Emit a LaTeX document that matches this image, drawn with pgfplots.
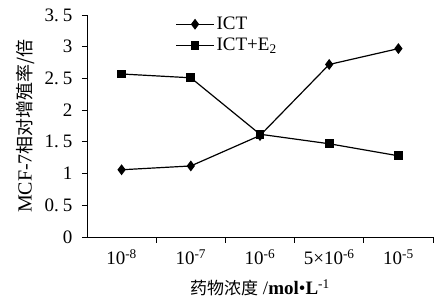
\documentclass[border=0pt]{standalone}
\usepackage{fontspec}
\setmainfont{Liberation Serif}
\newfontfamily\cjk{Noto Sans CJK SC}
\usepackage{pgfplots}
\pgfplotsset{compat=1.18}
\begin{document}
\begin{tikzpicture}
\begin{axis}[
  at={(0,0)}, anchor=south west,
  scale only axis, width=346pt, height=222pt,
  xmin=-0.5, xmax=4.5, ymin=0, ymax=3.5,
  axis x line*=bottom, axis y line*=left,
  axis line style={black, line width=0.8pt, -},
  xtick={0,1,2,3,4},
  xticklabels={10\textsuperscript{-8},10\textsuperscript{-7},10\textsuperscript{-6},5×10\textsuperscript{-6},10\textsuperscript{-5}},
  minor xtick={0.5,1.5,2.5,3.5,4.5},
  major x tick style={draw=none},
  minor tick length=6pt,
  ytick={0,0.5,1,1.5,2,2.5,3,3.5},
  yticklabels={0,0.\hspace{4pt}5,1,1.\hspace{4pt}5,2,2.\hspace{4pt}5,3,3.\hspace{4pt}5},
  major tick length=5pt,
  tick align=outside,
  tick style={black, line width=0.8pt},
  /pgf/number format/assume math mode=true,
  tick label style={font=\fontsize{19}{21}\selectfont},
  xticklabel style={yshift=-4pt},
  yticklabel style={xshift=-6pt},
  xlabel={{\cjk\fontsize{17}{19}\selectfont 药物浓度} /\textbf{mol}\textbullet\textbf{L}\textsuperscript{-1}},
  xlabel style={font=\fontsize{19}{21}\selectfont, yshift=-8pt},
  ylabel={MCF-7{\cjk\fontsize{18}{20}\selectfont 相对增殖率/倍}},
  ylabel style={font=\fontsize{20}{22}\selectfont, yshift=3pt},
  legend style={draw=none, fill=none, at={(0.255,1.0)}, anchor=north west,
    font=\fontsize{19}{21}\selectfont, row sep=3pt, inner sep=0pt,
    nodes={inner sep=2pt}},
  legend cell align=left,
  legend image code/.code={\draw[mark repeat=2,mark phase=2] plot coordinates {(0pt,0pt) (19pt,0pt) (38pt,0pt)};},
  legend image post style={line width=1.2pt},
  every axis plot/.append style={line width=1.2pt, black},
  clip=false,
]
\addplot[mark=diamond*, mark size=4.5pt] coordinates {(0,1.06) (1,1.12) (2,1.60) (3,2.72) (4,2.97)};
\addlegendentry{ICT}
\addplot[mark=square*, mark size=3.8pt] coordinates {(0,2.57) (1,2.51) (2,1.62) (3,1.47) (4,1.28)};
\addlegendentry{ICT+E\textsubscript{2}}
\end{axis}
\pgfresetboundingbox
\path (-87pt,-67pt) rectangle (357pt,237pt);
\end{tikzpicture}
\end{document}
